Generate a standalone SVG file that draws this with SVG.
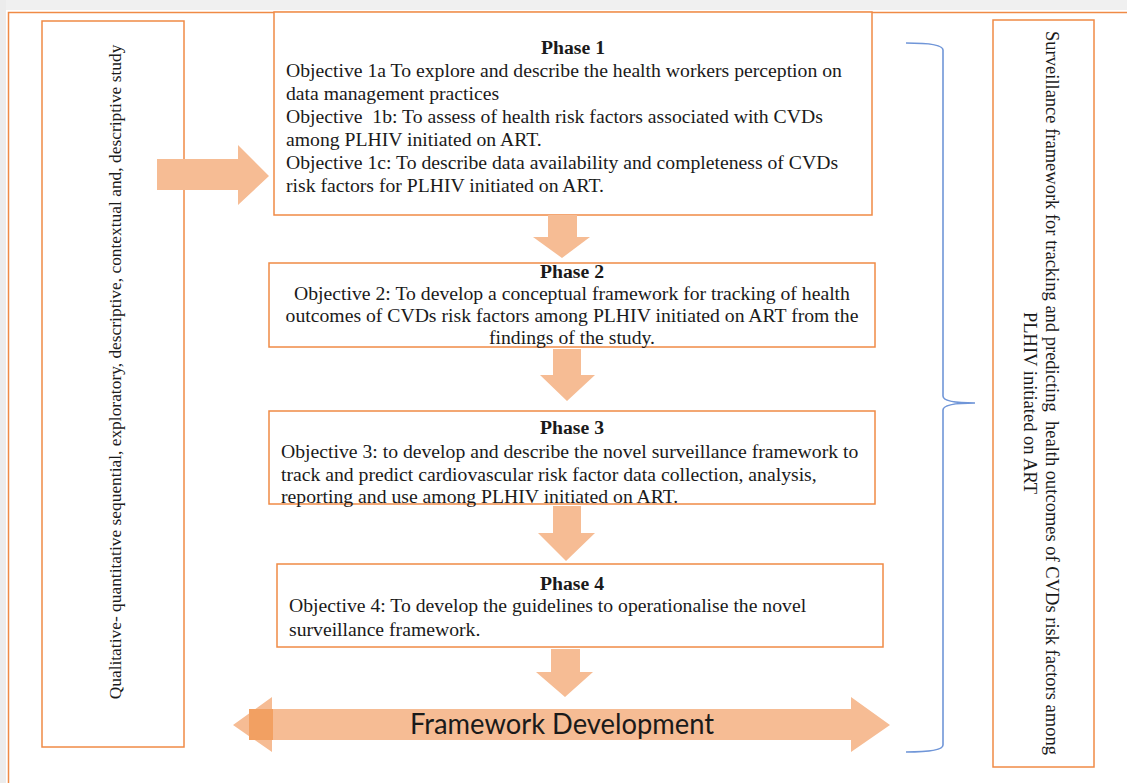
<svg xmlns="http://www.w3.org/2000/svg" width="1127" height="783" viewBox="0 0 1127 783">
<style>
.box{fill:#ffffff;stroke:#f08a46;stroke-width:1.5}
.t{font-family:"Liberation Serif","Times New Roman",serif;font-size:19.7px;fill:#1a1a1a;white-space:pre}
.b{font-weight:bold;text-anchor:middle}
.c{text-anchor:middle}
.arr{fill:#f6bc94}
.brace{fill:none;stroke:#7096d8;stroke-width:1.6}
</style>
<rect x="0" y="0" width="1127" height="783" fill="#ffffff"/>
<rect x="0" y="0" width="1127" height="10" fill="#f0f0f0"/>
<rect x="0" y="0" width="6" height="783" fill="#ececec"/>
<path d="M8.5,783 V12.5 H1127" fill="none" stroke="#f08a46" stroke-width="1.5"/>

<g id="left-box">
<rect class="box" x="42" y="21" width="142" height="726"/>
<text class="t c" style="font-size:17.4px" transform="translate(121,372) rotate(-90)">Qualitative- quantitative sequential, exploratory, descriptive, contextual and, descriptive study</text>
</g>

<g id="phase1">
<rect class="box" x="274" y="12" width="598" height="203"/>
<text class="t b" x="573" y="54">Phase 1</text>
<text class="t" x="286" y="77">Objective 1a To explore and describe the health workers perception on</text>
<text class="t" x="286" y="100">data management practices</text>
<text class="t" x="286" y="123" xml:space="preserve">Objective  1b: To assess of health risk factors associated with CVDs</text>
<text class="t" x="286" y="146">among PLHIV initiated on ART.</text>
<text class="t" x="286" y="169">Objective 1c: To describe data availability and completeness of CVDs</text>
<text class="t" x="286" y="192">risk factors for PLHIV initiated on ART.</text>
</g>

<g id="phase2">
<rect class="box" x="269" y="263" width="606" height="84"/>
<text class="t b" x="572" y="278">Phase 2</text>
<text class="t c" x="572" y="300">Objective 2: To develop a conceptual framework for tracking of health</text>
<text class="t c" x="572" y="322">outcomes of CVDs risk factors among PLHIV initiated on ART from the</text>
<text class="t c" x="572" y="344">findings of the study.</text>
</g>

<g id="phase3">
<rect class="box" x="269" y="411" width="606" height="93"/>
<text class="t b" x="572" y="434">Phase 3</text>
<text class="t" x="281" y="458">Objective 3: to develop and describe the novel surveillance framework to</text>
<text class="t" x="281" y="481">track and predict cardiovascular risk factor data collection, analysis,</text>
<text class="t" x="281" y="503">reporting and use among PLHIV initiated on ART.</text>
</g>

<g id="phase4">
<rect class="box" x="277" y="564" width="606" height="83"/>
<text class="t b" x="572" y="590">Phase 4</text>
<text class="t" x="289" y="612">Objective 4: To develop the guidelines to operationalise the novel</text>
<text class="t" x="289" y="636">surveillance framework.</text>
</g>

<g id="connectors">
<polygon class="arr" points="157,159 238,159 238,145 269,176 238,205 238,190 157,190"/>
<polygon class="arr" points="548,215 577,215 577,237 590,237 562,258 533,237 548,237"/>
<polygon class="arr" points="553,349 581,349 581,375 595,375 567,401 540,375 553,375"/>
<polygon class="arr" points="553,506 581,506 581,533 595,533 566,561 538,533 553,533"/>
<polygon class="arr" points="551,649 580,649 580,672 593,672 565,697 536,672 551,672"/>
</g>

<g id="framework">
<polygon class="arr" points="233,725 272,697 272,709 851,709 851,697 890,725 851,752 851,740 272,740 272,752"/>
<rect x="249" y="709" width="24" height="31" fill="#f2a062"/>
<text x="562" y="734" text-anchor="middle" font-family="Lato,'Liberation Sans',sans-serif" font-size="29" textLength="304" lengthAdjust="spacingAndGlyphs" fill="#1a1a1a">Framework Development</text>
</g>

<g id="brace">
<path class="brace" d="M906,43 Q943,43 943,50 V396 Q943,403 975,403 Q943,403 943,410 V745 Q943,752 906,752"/>
</g>

<g id="right-box">
<rect class="box" x="993" y="20" width="101" height="747"/>
<text class="t c" style="font-size:18.5px" transform="translate(1046,393) rotate(90)" xml:space="preserve">Surveillance framework for tracking and predicting  health outcomes of CVDs risk factors among</text>
<text class="t c" style="font-size:18.5px" transform="translate(1024,403) rotate(90)">PLHIV initiated on ART</text>
</g>
</svg>
